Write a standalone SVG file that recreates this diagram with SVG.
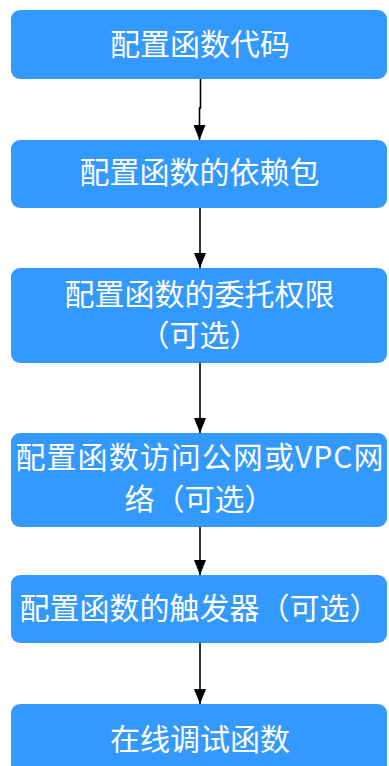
<svg xmlns="http://www.w3.org/2000/svg" width="389" height="766" viewBox="0 0 389 766">
<defs>
<style>
.box{fill:#3399ff;}
.t{fill:#ffffff;font-family:"Noto Sans CJK SC","Noto Sans",sans-serif;font-size:30px;text-anchor:middle;}
.c{stroke:#000;stroke-width:1.6;fill:none;}
</style>
<marker id="arr" markerWidth="15" markerHeight="12" refX="15" refY="6" orient="auto" markerUnits="userSpaceOnUse" viewBox="0 0 15 12">
<path d="M0,0 L15,6 L0,12 Z" fill="#000"/>
</marker>
</defs>
<rect width="389" height="766" fill="#ffffff"/>
<g id="connectors">
<path class="c" d="M200.5,79 V108 H199.5 V140" marker-end="url(#arr)"/>
<path class="c" d="M200,208 V268" marker-end="url(#arr)"/>
<path class="c" d="M200,363 V433" marker-end="url(#arr)"/>
<path class="c" d="M200,527 V575" marker-end="url(#arr)"/>
<path class="c" d="M200,643 V704" marker-end="url(#arr)"/>
</g>
<g id="n1"><rect class="box" x="11" y="10" width="376" height="69" rx="9"/><text class="t" x="200" y="55">配置函数代码</text></g>
<g id="n2"><rect class="box" x="11" y="140" width="376" height="68" rx="9"/><text class="t" x="199.5" y="183">配置函数的依赖包</text></g>
<g id="n3"><rect class="box" x="11" y="268" width="376" height="95" rx="9"/><text class="t" x="199.5" y="305">配置函数的委托权限</text><text class="t" x="199.5" y="346">（可选）</text></g>
<g id="n4"><rect class="box" x="11" y="433" width="376" height="94" rx="9"/><text class="t" x="199.5" y="468" textLength="368" lengthAdjust="spacing">配置函数访问公网或VPC网</text><text class="t" x="199.5" y="510">络（可选）</text></g>
<g id="n5"><rect class="box" x="11" y="575" width="376" height="68" rx="9"/><text class="t" x="199.5" y="619">配置函数的触发器（可选）</text></g>
<g id="n6"><rect class="box" x="11" y="704" width="376" height="75" rx="9"/><text class="t" x="200" y="750">在线调试函数</text></g>
</svg>
